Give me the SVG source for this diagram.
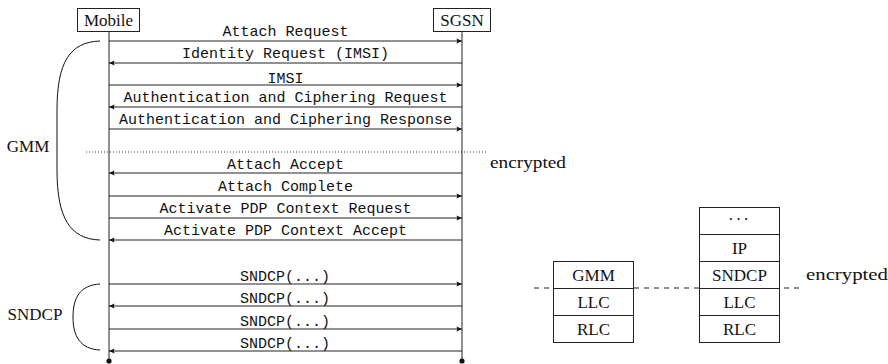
<svg xmlns="http://www.w3.org/2000/svg" width="888" height="364" viewBox="0 0 888 364">
  <style>
    .serif { font-family: "Liberation Serif", "Times New Roman", serif; font-size: 17px; fill: #111; }
    .mono { font-family: "Liberation Mono", "Courier New", monospace; font-size: 15px; fill: #111; text-anchor: middle; }
    .box { fill: #fff; stroke: #222; stroke-width: 1; }
    .life { stroke: #222; stroke-width: 1; fill: none; }
    .msg { stroke: #222; stroke-width: 1; fill: none; marker-end: url(#tip); }
    .brace { stroke: #111; stroke-width: 1; fill: none; }
    .mid { text-anchor: middle; }
  </style>
  <defs>
    <marker id="tip" viewBox="-6 -3 7 6" refX="0" refY="0" markerWidth="7" markerHeight="6" markerUnits="userSpaceOnUse" orient="auto">
      <path d="M0,0 L-5.5,-2.6 Q-3.8,0 -5.5,2.6 Z" fill="#111"/>
    </marker>
  </defs>

  <!-- participants -->
  <g id="mobile">
    <line class="life" x1="109" y1="31" x2="109" y2="361"/>
    <rect class="box" x="77.5" y="8.5" width="62" height="23"/>
    <text class="serif mid" x="108.5" y="26">Mobile</text>
    <circle cx="109" cy="361" r="2.6" fill="#111"/>
  </g>
  <g id="sgsn">
    <line class="life" x1="462" y1="31" x2="462" y2="361"/>
    <rect class="box" x="433.5" y="8.5" width="57" height="23"/>
    <text class="serif mid" x="462" y="26">SGSN</text>
    <circle cx="462" cy="361" r="2.6" fill="#111"/>
  </g>

  <!-- messages -->
  <g id="messages">
    <line class="msg" x1="109" y1="41" x2="462" y2="41"/>
    <text class="mono" x="285.5" y="35.5">Attach Request</text>
    <line class="msg" x1="462" y1="63" x2="109" y2="63"/>
    <text class="mono" x="285.5" y="57.5">Identity Request (IMSI)</text>
    <line class="msg" x1="109" y1="85" x2="462" y2="85"/>
    <text class="mono" x="285.5" y="82.5">IMSI</text>
    <line class="msg" x1="462" y1="107" x2="109" y2="107"/>
    <text class="mono" x="285.5" y="101.5">Authentication and Ciphering Request</text>
    <line class="msg" x1="109" y1="129" x2="462" y2="129"/>
    <text class="mono" x="285.5" y="123.5">Authentication and Ciphering Response</text>

    <line x1="86" y1="152" x2="486" y2="152" stroke="#222" stroke-width="1" stroke-dasharray="0.9 2.1"/>

    <line class="msg" x1="462" y1="173" x2="109" y2="173"/>
    <text class="mono" x="285.5" y="168.5">Attach Accept</text>
    <line class="msg" x1="109" y1="196" x2="462" y2="196"/>
    <text class="mono" x="285.5" y="190.5">Attach Complete</text>
    <line class="msg" x1="109" y1="218" x2="462" y2="218"/>
    <text class="mono" x="285.5" y="212.5">Activate PDP Context Request</text>
    <line class="msg" x1="462" y1="240" x2="109" y2="240"/>
    <text class="mono" x="285.5" y="234.5">Activate PDP Context Accept</text>

    <line class="msg" x1="109" y1="284" x2="462" y2="284"/>
    <text class="mono" x="285" y="281">SNDCP(...)</text>
    <line class="msg" x1="462" y1="306" x2="109" y2="306"/>
    <text class="mono" x="285" y="303">SNDCP(...)</text>
    <line class="msg" x1="109" y1="329" x2="462" y2="329"/>
    <text class="mono" x="285" y="326">SNDCP(...)</text>
    <line class="msg" x1="462" y1="351" x2="109" y2="351"/>
    <text class="mono" x="285" y="348">SNDCP(...)</text>
  </g>

  <!-- phase braces -->
  <g id="gmm-phase">
    <path class="brace" d="M100,41 C70,42 57,62 57,110 L57,170 C57,218 70,239 100,240"/>
    <text class="serif mid" x="28" y="152">GMM</text>
  </g>
  <g id="sndcp-phase">
    <path class="brace" d="M100,284 C80,285 73,298 73,317 C73,336 80,349 100,350"/>
    <text class="serif mid" x="35" y="320">SNDCP</text>
  </g>
  <text class="serif" x="490" y="168" textLength="76" lengthAdjust="spacingAndGlyphs">encrypted</text>

  <!-- protocol stacks -->
  <line x1="534" y1="288" x2="800" y2="288" stroke="#222" stroke-width="1" stroke-dasharray="5 5"/>
  <g id="stack-gmm">
    <rect class="box" x="553.5" y="261.5" width="80" height="27"/>
    <rect class="box" x="553.5" y="288.5" width="80" height="27"/>
    <rect class="box" x="553.5" y="315.5" width="80" height="27"/>
    <text class="serif mid" x="593.5" y="281">GMM</text>
    <text class="serif mid" x="593.5" y="308">LLC</text>
    <text class="serif mid" x="593.5" y="335">RLC</text>
  </g>
  <g id="stack-sndcp">
    <rect class="box" x="699.5" y="207.5" width="80" height="27"/>
    <rect class="box" x="699.5" y="234.5" width="80" height="27"/>
    <rect class="box" x="699.5" y="261.5" width="80" height="27"/>
    <rect class="box" x="699.5" y="288.5" width="80" height="27"/>
    <rect class="box" x="699.5" y="315.5" width="80" height="27"/>
    <text class="serif mid" x="739.5" y="225" letter-spacing="2">···</text>
    <text class="serif mid" x="739.5" y="254">IP</text>
    <text class="serif mid" x="739.5" y="281">SNDCP</text>
    <text class="serif mid" x="739.5" y="308">LLC</text>
    <text class="serif mid" x="739.5" y="335">RLC</text>
  </g>
  <text class="serif" x="806" y="280" textLength="82" lengthAdjust="spacingAndGlyphs">encrypted</text>
</svg>
